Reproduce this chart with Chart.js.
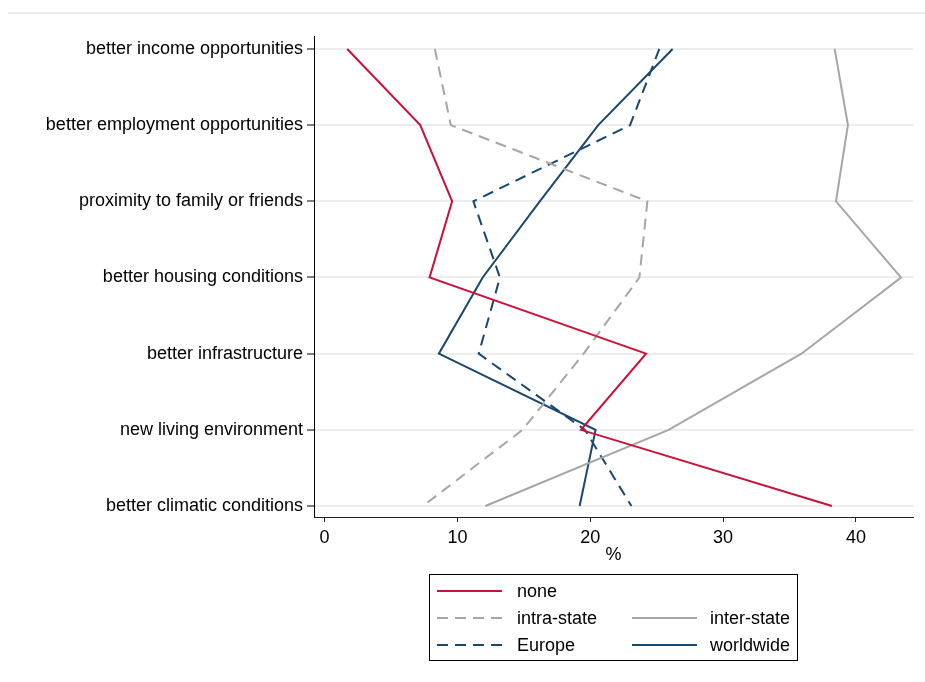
<!DOCTYPE html>
<html>
<head>
<meta charset="utf-8">
<script src="https://cdn.jsdelivr.net/npm/chart.js@4/dist/chart.umd.min.js"></script>
<style>
  html, body { margin: 0; padding: 0; background: #fff; }
  #wrap { width: 925px; height: 682px; }
</style>
</head>
<body>
<div id="wrap"><canvas id="c" width="925" height="682"></canvas></div>
<script>
// Reasons for moving, share (%) by intended destination
const categories = [
  'better income opportunities',
  'better employment opportunities',
  'proximity to family or friends',
  'better housing conditions',
  'better infrastructure',
  'new living environment',
  'better climatic conditions'
];
const xTicks = [0, 10, 20, 30, 40];

const noneVals       = [1.7, 7.2, 9.6, 7.9, 24.2, 19.3, 38.2];
const intraStateVals = [8.3, 9.5, 24.3, 23.7, 19.5, 14.9, 7.4];
const interStateVals = [38.4, 39.4, 38.5, 43.4, 35.9, 25.9, 12.1];
const europeVals     = [25.2, 23.0, 11.2, 13.2, 11.6, 19.6, 23.1];
const worldwideVals  = [26.2, 20.6, 16.2, 11.9, 8.6, 20.4, 19.2];

const RED = '#cc1038';
const NAVY = '#1a476f';
const GREY = '#a6a6a6';
const FONT = "'Liberation Sans', Arial, sans-serif";

const toPoints = vals => vals.map((v, i) => ({ x: v, y: i }));

const datasets = [
  { label: 'none',        data: toPoints(noneVals),       borderColor: RED,  borderDash: [],      legendSlot: [0, 0] },
  { label: 'intra-state', data: toPoints(intraStateVals), borderColor: GREY, borderDash: [11, 7], legendSlot: [0, 1] },
  { label: 'inter-state', data: toPoints(interStateVals), borderColor: GREY, borderDash: [],      legendSlot: [1, 1] },
  { label: 'Europe',      data: toPoints(europeVals),     borderColor: NAVY, borderDash: [11, 7], legendSlot: [0, 2] },
  { label: 'worldwide',   data: toPoints(worldwideVals),  borderColor: NAVY, borderDash: [],      legendSlot: [1, 2] }
].map(d => Object.assign(d, {
  borderWidth: 2,
  pointRadius: 0,
  pointHoverRadius: 0,
  tension: 0,
  fill: false
}));

// thin rule under the heading band and white background
const frame = {
  id: 'frame',
  beforeDraw(chart) {
    const ctx = chart.ctx;
    ctx.save();
    ctx.fillStyle = '#fff';
    ctx.fillRect(0, 0, chart.width, chart.height);
    ctx.strokeStyle = '#e6e6e6';
    ctx.lineWidth = 1.5;
    ctx.beginPath();
    ctx.moveTo(8, 13);
    ctx.lineTo(chart.width, 13);
    ctx.stroke();
    ctx.restore();
  }
};

// boxed two-column key below the plot
const boxedLegend = {
  id: 'boxedLegend',
  afterDraw(chart) {
    const ctx = chart.ctx;
    const box = { x: 429.5, y: 574.5, w: 368, h: 86 };
    const colX = [437, 632];
    const sampleW = 65;
    const textGap = [15, 13];
    const rowY = [591, 618, 645];
    ctx.save();
    ctx.strokeStyle = '#000';
    ctx.lineWidth = 1;
    ctx.strokeRect(box.x, box.y, box.w, box.h);
    ctx.font = '18px ' + FONT;
    ctx.textBaseline = 'middle';
    ctx.textAlign = 'left';
    chart.data.datasets.forEach(ds => {
      const [c, r] = ds.legendSlot;
      const x = colX[c], y = rowY[r];
      ctx.strokeStyle = ds.borderColor;
      ctx.lineWidth = 2;
      ctx.setLineDash(ds.borderDash);
      ctx.beginPath();
      ctx.moveTo(x, y);
      ctx.lineTo(x + sampleW, y);
      ctx.stroke();
      ctx.setLineDash([]);
      ctx.fillStyle = '#000';
      ctx.fillText(ds.label, x + sampleW + textGap[c], y + 1);
    });
    ctx.restore();
  }
};

new Chart(document.getElementById('c'), {
  type: 'line',
  data: { datasets },
  plugins: [frame, boxedLegend],
  options: {
    responsive: false,
    animation: false,
    devicePixelRatio: 1,
    layout: { padding: { top: 36, right: 12, bottom: 116, left: 0 } },
    plugins: {
      legend: { display: false },
      tooltip: { enabled: false },
      title: { display: false }
    },
    scales: {
      x: {
        type: 'linear',
        min: -0.8,
        max: 44.3,
        afterBuildTicks: s => { s.ticks = xTicks.map(v => ({ value: v })); },
        afterFit: s => { s.height = 49; },
        grid: { drawOnChartArea: false, drawTicks: true, tickLength: 5, tickColor: '#222', tickWidth: 1 },
        border: { display: true, color: '#222', width: 1 },
        ticks: { color: '#000', font: { family: FONT, size: 18 }, padding: 5, maxRotation: 0 },
        title: { display: true, text: '%', color: '#000', font: { family: FONT, size: 18 }, padding: 0 }
      },
      y: {
        type: 'linear',
        reverse: true,
        min: -0.17,
        max: 6.144,
        afterBuildTicks: s => { s.ticks = categories.map((_, i) => ({ value: i })); },
        afterFit: s => { s.width = 314; },
        grid: { color: '#ededed', lineWidth: 2, drawTicks: true, tickLength: 7, tickColor: '#000', tickWidth: 1 },
        border: { display: true, color: '#000', width: 1 },
        ticks: {
          color: '#000',
          font: { family: FONT, size: 18 },
          padding: 4,
          callback: v => categories[v]
        }
      }
    }
  }
});
</script>
</body>
</html>
